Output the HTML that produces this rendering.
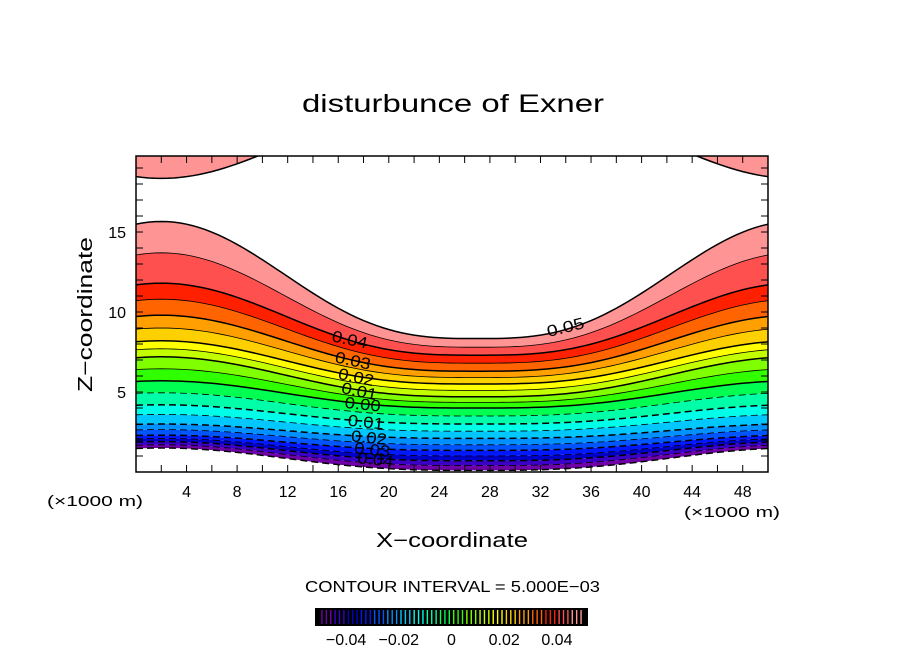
<!DOCTYPE html>
<html><head><meta charset="utf-8"><style>
html,body{margin:0;padding:0;background:#fff;}
svg{display:block;font-family:"Liberation Sans",sans-serif;}
</style></head><body>
<svg id="chart" width="904" height="654" viewBox="0 0 904 654" xmlns="http://www.w3.org/2000/svg">
<defs><clipPath id="plotclip"><rect x="136" y="156" width="632" height="316"/></clipPath></defs>
<text x="302" y="112" textLength="302" lengthAdjust="spacingAndGlyphs" font-size="25" fill="#000">disturbunce of Exner</text>
<g id="bands" clip-path="url(#plotclip)"></g>
<g id="lines" clip-path="url(#plotclip)"></g>
<g id="labels"></g>
<rect x="136" y="156" width="632" height="316" fill="none" stroke="#000" stroke-width="1.5"/>
<g id="axes"></g>
<text transform="translate(92,392) rotate(-90)" textLength="155" lengthAdjust="spacingAndGlyphs" font-size="20">Z−coordinate</text>
<text x="47" y="506" textLength="96" lengthAdjust="spacingAndGlyphs" font-size="15">(×1000 m)</text>
<text x="684" y="517" textLength="96" lengthAdjust="spacingAndGlyphs" font-size="15">(×1000 m)</text>
<text x="376" y="547" textLength="152" lengthAdjust="spacingAndGlyphs" font-size="20">X−coordinate</text>
<text x="305" y="592" textLength="295" lengthAdjust="spacingAndGlyphs" font-size="16">CONTOUR INTERVAL = 5.000E−03</text>
<g id="cbar"></g>
</svg>
<script>
// data
const levels = [-0.05,-0.045,-0.04,-0.035,-0.03,-0.025,-0.02,-0.015,-0.01,-0.005,0,0.005,0.01,0.015,0.02,0.025,0.03,0.035,0.04,0.045,0.05];
const crestZ = [1.5,1.7,1.9,2.1,2.3,2.65,3.0,3.6,4.2,4.95,5.7,6.45,7.2,7.7,8.2,9.0,9.8,10.8,11.8,13.7,15.66];
const troughZ = [0.1,0.4,0.7,1.0,1.35,1.7,2.1,2.55,3.0,3.5,4.0,4.35,4.7,5.1,5.5,5.9,6.3,6.8,7.3,7.8,8.34];
const bandColors = ["#7000a8","#3a00c8","#0000c8","#0018ff","#0055ff","#0090ff","#00c8ff","#00ffe8","#00ffa8","#00ff50","#30ff00","#80ff00","#c4ff00","#ffff00","#ffd000","#ffa000","#ff6400","#ff2000","#ff5050","#ff9494"];
const topCorner = {crest:18.35, trough:23};
const labelTexts = ["0.04","0.03","0.02","0.01","0.00","0.01","0.02","0.03","0.04"];
const labelLevels = [0.04,0.03,0.02,0.01,0,-0.01,-0.02,-0.03,-0.04];
const xTicks = [4,8,12,16,20,24,28,32,36,40,44,48];
const yTicks = [5,10,15];
const cbarTicks = [-0.04,-0.02,0,0.02,0.04];
const cbarTickText = ["−0.04","−0.02","0","0.02","0.04"];

const NS="http://www.w3.org/2000/svg";
const X0=136,X1=768,Y0=472,Y1=156, XMAX=50, ZMAX=19.75;
const sx=x=>X0+(X1-X0)*x/XMAX;
const sy=z=>Y0-(Y0-Y1)*z/ZMAX;
const shape=x=>Math.pow((1+Math.cos(2*Math.PI*(x-2)/50))/2,1.5);
const zAt=(i,x)=>troughZ[i]+shape(x)*(crestZ[i]-troughZ[i]);
const xs=[];for(let x=0;x<=50.001;x+=0.5)xs.push(x);
function mk(tag,attrs,parent){const e=document.createElementNS(NS,tag);for(const k in attrs)e.setAttribute(k,attrs[k]);parent.appendChild(e);return e;}
const bands=document.getElementById('bands'),lines=document.getElementById('lines'),labels=document.getElementById('labels'),axes=document.getElementById('axes'),cbar=document.getElementById('cbar');

for(let i=0;i<levels.length-1;i++){
  const up=xs.map(x=>sx(x)+','+sy(zAt(i+1,x)));
  const lo=xs.slice().reverse().map(x=>sx(x)+','+sy(zAt(i,x)));
  const p=mk('polygon',{points:up.concat(lo).join(' '),fill:bandColors[i]},bands);
  
  
}
{
  const curve=xs.map(x=>sx(x)+','+sy(topCorner.trough+shape(x)*(topCorner.crest-topCorner.trough)));
  const p=mk('polygon',{points:curve.join(' ')+' '+sx(50)+','+(Y1-5)+' '+sx(0)+','+(Y1-5),fill:bandColors[19]},bands);
  
  
  const l=mk('polyline',{points:curve.join(' '),fill:'none',stroke:'#000','stroke-width':1.5},lines);
  
  
}
for(let i=0;i<levels.length;i++){
  const v=levels[i];
  const major=Math.abs(Math.round(v*1000)%10)===0;
  const attrs={points:xs.map(x=>sx(x)+','+sy(zAt(i,x))).join(' '),fill:'none',stroke:'#000','stroke-width':(i===levels.length-1||major)?1.5:0.8};
  if(v<0)attrs['stroke-dasharray']='7,4';
  const l=mk('polyline',attrs,lines);
  
  
}
labelLevels.forEach((v,k)=>{
  const i=levels.findIndex(l=>Math.abs(l-v)<1e-9);
  const x=16+k*0.25;
  const z=zAt(i,x);
  const t=mk('text',{x:sx(x)-6,y:sy(z)+6,'font-size':16,textLength:36,lengthAdjust:'spacingAndGlyphs',transform:`rotate(${k<4?12:6},${sx(x)},${sy(z)})`},labels);
  t.textContent=labelTexts[k];
  
  
});
{
  const i=levels.length-1,x=33.8,z=zAt(i,x);
  const t=mk('text',{x:sx(x)-16,y:sy(z)+3,'font-size':16,textLength:38,lengthAdjust:'spacingAndGlyphs',transform:`rotate(-14,${sx(x)},${sy(z)})`},labels);
  t.textContent="0.05";
  
  
}
for(let x=2;x<50;x+=2){
  mk('line',{x1:sx(x),x2:sx(x),y1:Y0,y2:Y0-7,stroke:'#000'},axes);
  mk('line',{x1:sx(x),x2:sx(x),y1:Y1,y2:Y1+7,stroke:'#000'},axes);
}
for(let z=1;z<20;z+=1){
  mk('line',{x1:X0,x2:X0+7,y1:sy(z),y2:sy(z),stroke:'#000'},axes);
  mk('line',{x1:X1,x2:X1-7,y1:sy(z),y2:sy(z),stroke:'#000'},axes);
}
xTicks.forEach(v=>{const t=mk('text',{x:sx(v),y:497,'text-anchor':'middle','font-size':16},axes);t.textContent=v;
  });
yTicks.forEach(v=>{const t=mk('text',{x:126,y:sy(v)+6,'text-anchor':'end','font-size':16},axes);t.textContent=v;
  });
const CB0=315,CB1=588,CBV0=-0.0518,CBV1=0.0518;
const cx=v=>CB0+(CB1-CB0)*(v-CBV0)/(CBV1-CBV0);
mk('rect',{x:CB0,y:608,width:CB1-CB0,height:18,fill:'#000'},cbar);
for(let k=0;k<levels.length-1;k++){
  const a=levels[k],b=levels[k+1];
  for(let s=0;s<3;s++){
    const v=a+(b-a)*(s+0.5)/3;
    mk('rect',{x:cx(v)-0.7,y:610,width:1.4,height:14,fill:bandColors[k]},cbar);
  }
}
cbarTicks.forEach((v,k)=>{const t=mk('text',{x:cx(v),y:645,'text-anchor':'middle','font-size':16},cbar);t.textContent=cbarTickText[k];
  });
</script>
</body></html>
